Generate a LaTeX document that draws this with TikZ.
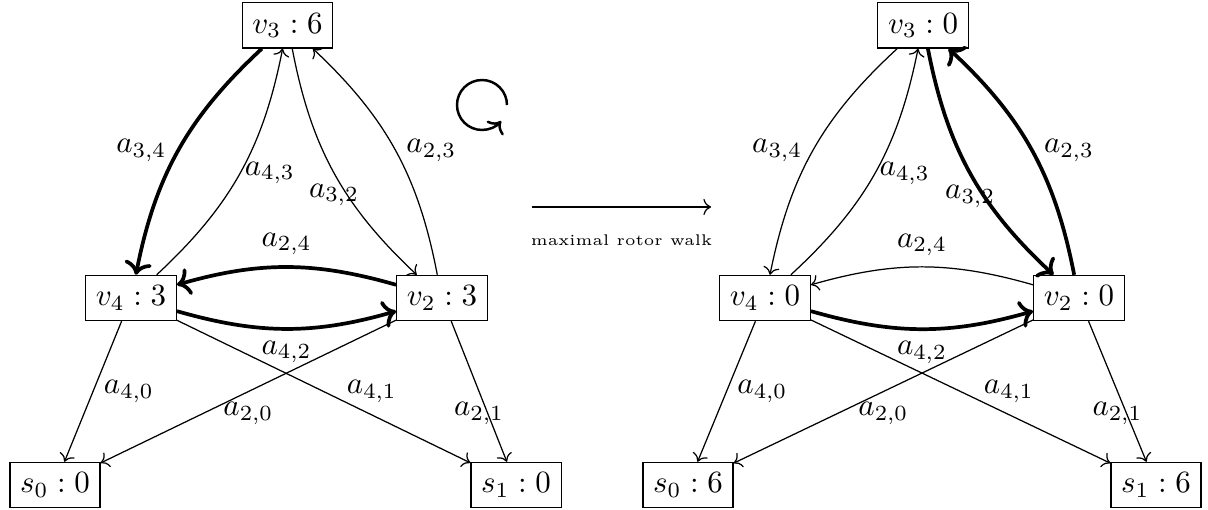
\documentclass[tikz,border=0pt]{standalone}
\usepackage{amsmath}
\usepackage{tikz}
\usetikzlibrary{arrows.meta, positioning, calc}
\tikzset{
  vertex/.style={rectangle, draw, inner sep=3.33pt, font=\normalsize},
  arrow/.style={->, thin},
  rotorarrow/.style={->, very thick},
  walkarrow/.style={->, thin}
}

\begin{document}
\begin{tikzpicture}
  \useasboundingbox (0,0) rectangle (13.727,5.795);

  % ── Before the walk ─────────────────────────────────────────────────────────
  \node[vertex] (v3a) at (3.267,5.506) {$v_3 : 6$};
  \node[vertex] (v4a) at (1.489,2.409) {$v_4 : 3$};
  \node[vertex] (v2a) at (5.023,2.409) {$v_2 : 3$};
  \node[vertex] (s0a) at (0.625,0.284) {$s_0 : 0$};
  \node[vertex] (s1a) at (5.864,0.284) {$s_1 : 0$};

  \draw[rotorarrow] (v3a) to[bend right=18] node[midway, left] {$a_{3,4}$} (v4a);
  \draw[arrow] (v4a) to[bend right=18] node[midway, right, xshift=-2pt] {$a_{4,3}$} (v3a);
  \draw[arrow] (v3a) to[bend right=18] node[midway, below] {$a_{3,2}$} (v2a);
  \draw[arrow] (v2a) to[bend right=18] node[midway, right] {$a_{2,3}$} (v3a);
  \draw[rotorarrow] (v2a) to[bend right=16] node[midway, above] {$a_{2,4}$} (v4a);
  \draw[rotorarrow] (v4a) to[bend right=16] node[midway, below] {$a_{4,2}$} (v2a);
  \draw[arrow] (v4a) -- node[midway, right] {$a_{4,0}$} (s0a);
  \draw[arrow] (v4a) -- node[midway, right, xshift=4pt] {$a_{4,1}$} (s1a);
  \draw[arrow] (v2a) -- node[midway, below] {$a_{2,0}$} (s0a);
  \draw[arrow] (v2a) -- node[midway, below] {$a_{2,1}$} (s1a);

  % rotation sign
  \draw[->, thick] (5.761,4.602) arc (0:320:0.284);

  % ── Walk arrow ──────────────────────────────────────────────────────────────
  \coordinate (walkstart) at (6.045,3.443);
  \coordinate (walkend) at (8.080,3.443);
  \draw[walkarrow] (walkstart) -- node[below=5.5pt, font=\tiny] {maximal rotor walk} (walkend);

  % ── After the walk ──────────────────────────────────────────────────────────
  \node[vertex] (v3b) at (10.489,5.506) {$v_3 : 0$};
  \node[vertex] (v4b) at (8.693,2.409) {$v_4 : 0$};
  \node[vertex] (v2b) at (12.261,2.409) {$v_2 : 0$};
  \node[vertex] (s0b) at (7.818,0.284) {$s_0 : 6$};
  \node[vertex] (s1b) at (13.136,0.284) {$s_1 : 6$};

  \draw[arrow] (v3b) to[bend right=18] node[midway, left] {$a_{3,4}$} (v4b);
  \draw[arrow] (v4b) to[bend right=18] node[midway, right, xshift=-2pt] {$a_{4,3}$} (v3b);
  \draw[rotorarrow] (v3b) to[bend right=18] node[midway, below] {$a_{3,2}$} (v2b);
  \draw[rotorarrow] (v2b) to[bend right=18] node[midway, right] {$a_{2,3}$} (v3b);
  \draw[arrow] (v2b) to[bend right=16] node[midway, above] {$a_{2,4}$} (v4b);
  \draw[rotorarrow] (v4b) to[bend right=16] node[midway, below] {$a_{4,2}$} (v2b);
  \draw[arrow] (v4b) -- node[midway, right] {$a_{4,0}$} (s0b);
  \draw[arrow] (v4b) -- node[midway, right, xshift=4pt] {$a_{4,1}$} (s1b);
  \draw[arrow] (v2b) -- node[midway, below] {$a_{2,0}$} (s0b);
  \draw[arrow] (v2b) -- node[midway, below] {$a_{2,1}$} (s1b);
\end{tikzpicture}
\end{document}
